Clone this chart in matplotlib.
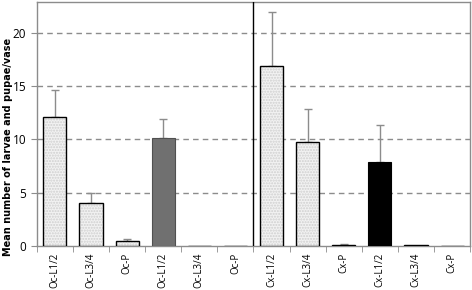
import matplotlib
matplotlib.use("Agg")
import matplotlib.pyplot as plt
import numpy as np

categories = ["Oc-L1/2", "Oc-L3/4", "Oc-P", "Oc-L1/2", "Oc-L3/4", "Oc-P",
              "Cx-L1/2", "Cx-L3/4", "Cx-P", "Cx-L1/2", "Cx-L3/4", "Cx-P"]
means = [12.15, 4.07, 0.5, 10.15, 0.03, 0.0,
         16.85, 9.75, 0.1, 7.85, 0.05, 0.0]
errors = [2.45, 0.9, 0.15, 1.75, 0.0, 0.0,
          5.15, 3.1, 0.1, 3.5, 0.0, 0.0]
styles = ["dot", "dot", "dot", "gray", "dot", "dot",
          "dot", "dot", "dot", "black", "dot", "dot"]

plt.rcParams['font.family'] = ['Open Sans', 'DejaVu Sans']
fig = plt.figure(figsize=(4.72, 2.90), dpi=100)
ax = fig.add_axes([0.078, 0.152, 0.918, 0.841])

x = np.arange(len(categories))
w = 0.64
for xi, m, e, s in zip(x, means, errors, styles):
    if e > 0:
        ax.errorbar(xi, m, yerr=[[0], [e]], fmt='none', ecolor='#8c8c8c',
                    elinewidth=1.0, capsize=3, capthick=1.0, zorder=2)
    if s == "dot":
        ax.bar(xi, m, w, color='#f2f2f2', edgecolor='#cfcfcf', hatch='......',
               linewidth=0, zorder=3)
        ax.bar(xi, m, w, fill=False, edgecolor='black', linewidth=1.0, zorder=4)
    elif s == "gray":
        ax.bar(xi, m, w, color='#707070', edgecolor='#505050', linewidth=0.8, zorder=3)
    else:
        ax.bar(xi, m, w, color='black', edgecolor='black', linewidth=0.8, zorder=3)

ax.set_xlim(-0.5, len(categories) - 0.5)
ax.set_ylim(0, 22.9)
ax.set_yticks([0, 5, 10, 15, 20])
for yv in [5, 10, 15, 20]:
    ax.axhline(yv, color='#8c8c8c', linestyle=(0, (4, 3)), linewidth=1.0, zorder=1)
ax.axvline(5.5, color='black', linewidth=1.0, zorder=5)

ax.set_xticks(x)
ax.set_xticklabels(categories, rotation=90, fontsize=7)
ax.set_xticks(np.arange(-0.5, len(categories) + 0.5, 1), minor=True)
ax.tick_params(axis='x', which='major', length=0, pad=5)
ax.tick_params(axis='x', which='minor', length=4, color='#8c8c8c', direction='out')
ax.tick_params(axis='y', labelsize=8.5, length=4, color='#8c8c8c', direction='out')
for sp in ax.spines.values():
    sp.set_color('#8c8c8c')
    sp.set_linewidth(1.0)
fig.text(8 / 472, 1 - 147 / 290, "Mean number of larvae and pupae/vase",
         rotation=90, ha='center', va='center', fontsize=7, fontweight='bold',
         family=['Liberation Sans Narrow', 'DejaVu Sans'])

fig.savefig("out.png", dpi=100)
